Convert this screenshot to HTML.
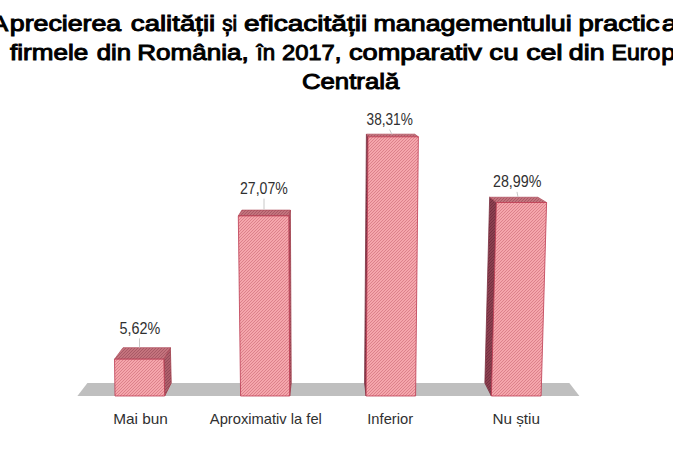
<!DOCTYPE html>
<html><head><meta charset="utf-8">
<style>
html,body{margin:0;padding:0;background:#fff;width:673px;height:449px;overflow:hidden;}
svg{position:absolute;left:0;top:0;}
.ti{font-family:"Liberation Sans",sans-serif;font-weight:normal;font-size:22.5px;fill:#000;stroke:#000;stroke-width:1.0px;}
.dl,.cl{font-family:"Liberation Sans",sans-serif;fill:#303030;}
.dl{font-size:16px;} .cl{font-size:15px;}
</style></head><body>
<svg width="673" height="449" viewBox="0 0 673 449">
<defs>
<pattern id="pfront" patternUnits="userSpaceOnUse" width="3" height="3">
<rect width="3" height="3" fill="#f5a6ac"/><rect x="0" y="2" width="1" height="1" fill="#dc818b"/><rect x="1" y="1" width="1" height="1" fill="#dc818b"/><rect x="2" y="0" width="1" height="1" fill="#dc818b"/>
</pattern>
<pattern id="ptop" patternUnits="userSpaceOnUse" width="3" height="3">
<rect width="3" height="3" fill="#c4737d"/><rect x="0" y="2" width="1" height="1" fill="#a85a66"/><rect x="1" y="1" width="1" height="1" fill="#a85a66"/><rect x="2" y="0" width="1" height="1" fill="#a85a66"/>
</pattern>
<pattern id="pside" patternUnits="userSpaceOnUse" width="3" height="3">
<rect width="3" height="3" fill="#b0606c"/><rect x="0" y="2" width="1" height="1" fill="#924a58"/><rect x="1" y="1" width="1" height="1" fill="#924a58"/><rect x="2" y="0" width="1" height="1" fill="#924a58"/>
</pattern>
<pattern id="psidel" patternUnits="userSpaceOnUse" width="3" height="3">
<rect width="3" height="3" fill="#8c4050"/><rect x="0" y="2" width="1" height="1" fill="#72303f"/><rect x="1" y="1" width="1" height="1" fill="#72303f"/><rect x="2" y="0" width="1" height="1" fill="#72303f"/>
</pattern>
</defs>
<polygon points="77.40,396.00 579.40,396.00 569.34,383.00 87.42,383.00" fill="#bfbfbf"/>
<polygon points="163.80,359.20 170.37,347.67 171.23,383.00 164.70,396.00" fill="url(#pside)" stroke="#9e3a48" stroke-width="0.8"/>
<polygon points="114.50,359.20 163.80,359.20 170.37,347.67 123.04,347.67" fill="url(#ptop)" stroke="#b04a5a" stroke-width="0.7"/>
<polygon points="114.50,359.20 163.80,359.20 164.70,396.00 115.00,396.00" fill="url(#pfront)" stroke="#bc3a50" stroke-width="0.8"/>
<polygon points="288.80,215.90 290.37,210.10 291.23,383.00 289.70,396.00" fill="url(#pside)" stroke="#9e3a48" stroke-width="0.8"/>
<polygon points="238.30,215.90 288.80,215.90 290.37,210.10 241.89,210.10" fill="url(#ptop)" stroke="#b04a5a" stroke-width="0.7"/>
<polygon points="238.30,215.90 288.80,215.90 289.70,396.00 240.60,396.00" fill="url(#pfront)" stroke="#bc3a50" stroke-width="0.8"/>
<polygon points="368.00,136.80 366.40,134.17 364.58,383.00 366.10,396.00" fill="url(#psidel)" stroke="#7a3040" stroke-width="0.8"/>
<polygon points="368.00,136.80 418.40,136.80 414.78,134.17 366.40,134.17" fill="url(#ptop)" stroke="#b04a5a" stroke-width="0.7"/>
<polygon points="368.00,136.80 418.40,136.80 415.60,396.00 366.10,396.00" fill="url(#pfront)" stroke="#bc3a50" stroke-width="0.8"/>
<polygon points="496.40,202.50 489.66,197.24 484.86,383.00 491.40,396.00" fill="url(#psidel)" stroke="#7a3040" stroke-width="0.8"/>
<polygon points="496.40,202.50 546.60,202.50 537.86,197.24 489.66,197.24" fill="url(#ptop)" stroke="#b04a5a" stroke-width="0.7"/>
<polygon points="496.40,202.50 546.60,202.50 541.10,396.00 491.40,396.00" fill="url(#pfront)" stroke="#bc3a50" stroke-width="0.8"/>
<line x1="139.5" y1="338.4" x2="139.5" y2="347.5" stroke="#c8c8c8" stroke-width="1"/>
<line x1="264" y1="198.6" x2="264" y2="209.5" stroke="#c8c8c8" stroke-width="1"/>
<line x1="389.6" y1="129.6" x2="392" y2="134.5" stroke="#c8c8c8" stroke-width="1"/>
<line x1="517" y1="191.9" x2="518" y2="197" stroke="#c8c8c8" stroke-width="1"/>
<text id="w_A" x="-8.80" y="30.5" class="ti" textLength="16.90" lengthAdjust="spacingAndGlyphs">A</text>
<text id="w_precierea" x="9.79" y="30.5" class="ti" textLength="111.47" lengthAdjust="spacingAndGlyphs">precierea</text>
<text id="w_calitatii" x="130.87" y="30.5" class="ti" textLength="84.31" lengthAdjust="spacingAndGlyphs">calității</text>
<text id="w_si" x="222.34" y="30.5" class="ti" textLength="14.85" lengthAdjust="spacingAndGlyphs">și</text>
<text id="w_eficacitatii" x="244.00" y="30.5" class="ti" textLength="123.25" lengthAdjust="spacingAndGlyphs">eficacității</text>
<text id="w_managementului" x="373.54" y="30.5" class="ti" textLength="198.18" lengthAdjust="spacingAndGlyphs">managementului</text>
<text id="w_practic" x="578.45" y="30.5" class="ti" textLength="81.19" lengthAdjust="spacingAndGlyphs">practic</text>
<text id="w_atin" x="661.84" y="30.5" class="ti" textLength="15.60" lengthAdjust="spacingAndGlyphs">a</text>
<text id="w_firmele" x="10.09" y="60.1" class="ti" textLength="78.13" lengthAdjust="spacingAndGlyphs">firmele</text>
<text id="w_din1" x="96.66" y="60.1" class="ti" textLength="34.42" lengthAdjust="spacingAndGlyphs">din</text>
<text id="w_romania" x="137.22" y="60.1" class="ti" textLength="111.43" lengthAdjust="spacingAndGlyphs">România,</text>
<text id="w_in" x="256.47" y="60.1" class="ti" textLength="18.57" lengthAdjust="spacingAndGlyphs">în</text>
<text id="w_2017" x="281.95" y="60.1" class="ti" textLength="59.42" lengthAdjust="spacingAndGlyphs">2017,</text>
<text id="w_comparativ" x="348.94" y="60.1" class="ti" textLength="133.04" lengthAdjust="spacingAndGlyphs">comparativ</text>
<text id="w_cu" x="489.39" y="60.1" class="ti" textLength="29.19" lengthAdjust="spacingAndGlyphs">cu</text>
<text id="w_cel" x="526.15" y="60.1" class="ti" textLength="36.54" lengthAdjust="spacingAndGlyphs">cel</text>
<text id="w_din2" x="568.89" y="60.1" class="ti" textLength="35.71" lengthAdjust="spacingAndGlyphs">din</text>
<text id="w_euro" x="611.54" y="60.1" class="ti" textLength="48.77" lengthAdjust="spacingAndGlyphs">Euro</text>
<text id="w_pa" x="661.27" y="60.1" class="ti" textLength="28.30" lengthAdjust="spacingAndGlyphs">pa</text>
<text id="w_centrala" x="301.92" y="88.9" class="ti" textLength="97.47" lengthAdjust="spacingAndGlyphs">Centrală</text>
<text id="d1" x="119.46" y="333.7" class="dl" textLength="40.74" lengthAdjust="spacingAndGlyphs">5,62%</text>
<text id="d2" x="239.97" y="193.5" class="dl" textLength="47.81" lengthAdjust="spacingAndGlyphs">27,07%</text>
<text id="d3" x="366.56" y="124.8" class="dl" textLength="46.27" lengthAdjust="spacingAndGlyphs">38,31%</text>
<text id="d4" x="492.98" y="186.8" class="dl" textLength="48.38" lengthAdjust="spacingAndGlyphs">28,99%</text>
<text id="c1" x="113.24" y="423.5" class="cl" textLength="54.68" lengthAdjust="spacingAndGlyphs">Mai bun</text>
<text id="c2" x="209.84" y="423.5" class="cl" textLength="112.05" lengthAdjust="spacingAndGlyphs">Aproximativ la fel</text>
<text id="c3" x="367.29" y="423.5" class="cl" textLength="45.76" lengthAdjust="spacingAndGlyphs">Inferior</text>
<text id="c4" x="492.42" y="423.5" class="cl" textLength="47.54" lengthAdjust="spacingAndGlyphs">Nu știu</text>
</svg>
</body></html>
